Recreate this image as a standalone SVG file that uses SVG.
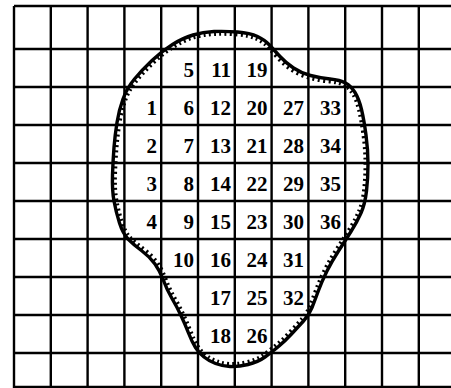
<svg xmlns="http://www.w3.org/2000/svg" width="451" height="388" viewBox="0 0 451 388">
<style>
.g{stroke:#000;stroke-width:2.4;fill:none}
.n{font-family:"Liberation Serif","Times New Roman",serif;font-size:21px;font-weight:bold;text-anchor:end;fill:#000}
.b{stroke:#000;stroke-width:3.4;fill:none}
.t{stroke:#000;stroke-width:9;fill:none;stroke-dasharray:2 3.4}
</style>
<defs>
<path id="blob" d="M 214 31.5 Q 225 31 237.5 32 Q 250 33 257.5 36.5 Q 265 40 269.5 45 Q 274 50 280 56.5 Q 286 63 293.5 68 Q 301 73 310.5 75.5 Q 320 78 330 79 Q 340 80 345.5 83 Q 351 86 355 92.5 Q 359 99 361.5 109.5 Q 364 120 366 135 Q 368 150 368 164 Q 368 178 366.5 191 Q 365 204 361 213 Q 357 222 351 231.5 Q 345 241 338.5 251 Q 332 261 327 271 Q 322 281 318.5 290.5 Q 315 300 312 307.5 Q 309 315 303.5 321 Q 298 327 291.5 334 Q 285 341 278.5 346.5 Q 272 352 265 357 Q 258 362 248 364.5 Q 238 367 230 366.5 Q 222 366 215.5 363.5 Q 209 361 204 357 Q 199 353 195.5 347.5 Q 192 342 188.5 333 Q 185 324 181 315.5 Q 177 307 172 298.5 Q 167 290 163.5 280.5 Q 160 271 155 264 Q 150 257 142 251 Q 134 245 128.5 239.5 Q 123 234 119.5 223 Q 116 212 114 201 Q 112 190 112.5 175 Q 113 160 114 147.5 Q 115 135 117 122.5 Q 119 110 123 99 Q 127 88 134.5 79 Q 142 70 152 60.5 Q 162 51 172.5 44.5 Q 183 38 193 35 Q 203 32 214 31.5 Z"/>
<clipPath id="inside"><use href="#blob"/></clipPath>
</defs>
<rect width="451" height="388" fill="#fff"/>
<g id="grid" class="g">
<path d="M14 6H451M14 49H451M14 87H451M14 125H451M14 163H451M14 201H451M14 239H451M14 277H451M14 315H451M14 353H451M14 387H451"/>
<path d="M14 6V388M50.8 6V388M87.6 6V388M124.4 6V388M161.2 6V388M198 6V388M234.8 6V388M271.6 6V388M308.4 6V388M345.2 6V388M382 6V388M418.8 6V388"/>
</g>
<g id="boundary">
<use href="#blob" class="t" clip-path="url(#inside)"/>
<use href="#blob" class="b"/>
</g>
<g id="labels" class="n">
<text x="194" y="77">5</text><text x="231" y="77">11</text><text x="267.5" y="77">19</text>
<text x="157" y="115">1</text><text x="194" y="115">6</text><text x="231" y="115">12</text><text x="267.5" y="115">20</text><text x="304" y="115">27</text><text x="341" y="115">33</text>
<text x="157" y="153">2</text><text x="194" y="153">7</text><text x="231" y="153">13</text><text x="267.5" y="153">21</text><text x="304" y="153">28</text><text x="341" y="153">34</text>
<text x="157" y="191">3</text><text x="194" y="191">8</text><text x="231" y="191">14</text><text x="267.5" y="191">22</text><text x="304" y="191">29</text><text x="341" y="191">35</text>
<text x="157" y="229">4</text><text x="194" y="229">9</text><text x="231" y="229">15</text><text x="267.5" y="229">23</text><text x="304" y="229">30</text><text x="341" y="229">36</text>
<text x="194" y="267">10</text><text x="231" y="267">16</text><text x="267.5" y="267">24</text><text x="304" y="267">31</text>
<text x="231" y="305">17</text><text x="267.5" y="305">25</text><text x="304" y="305">32</text>
<text x="231" y="343">18</text><text x="267.5" y="343">26</text>
</g>
</svg>
